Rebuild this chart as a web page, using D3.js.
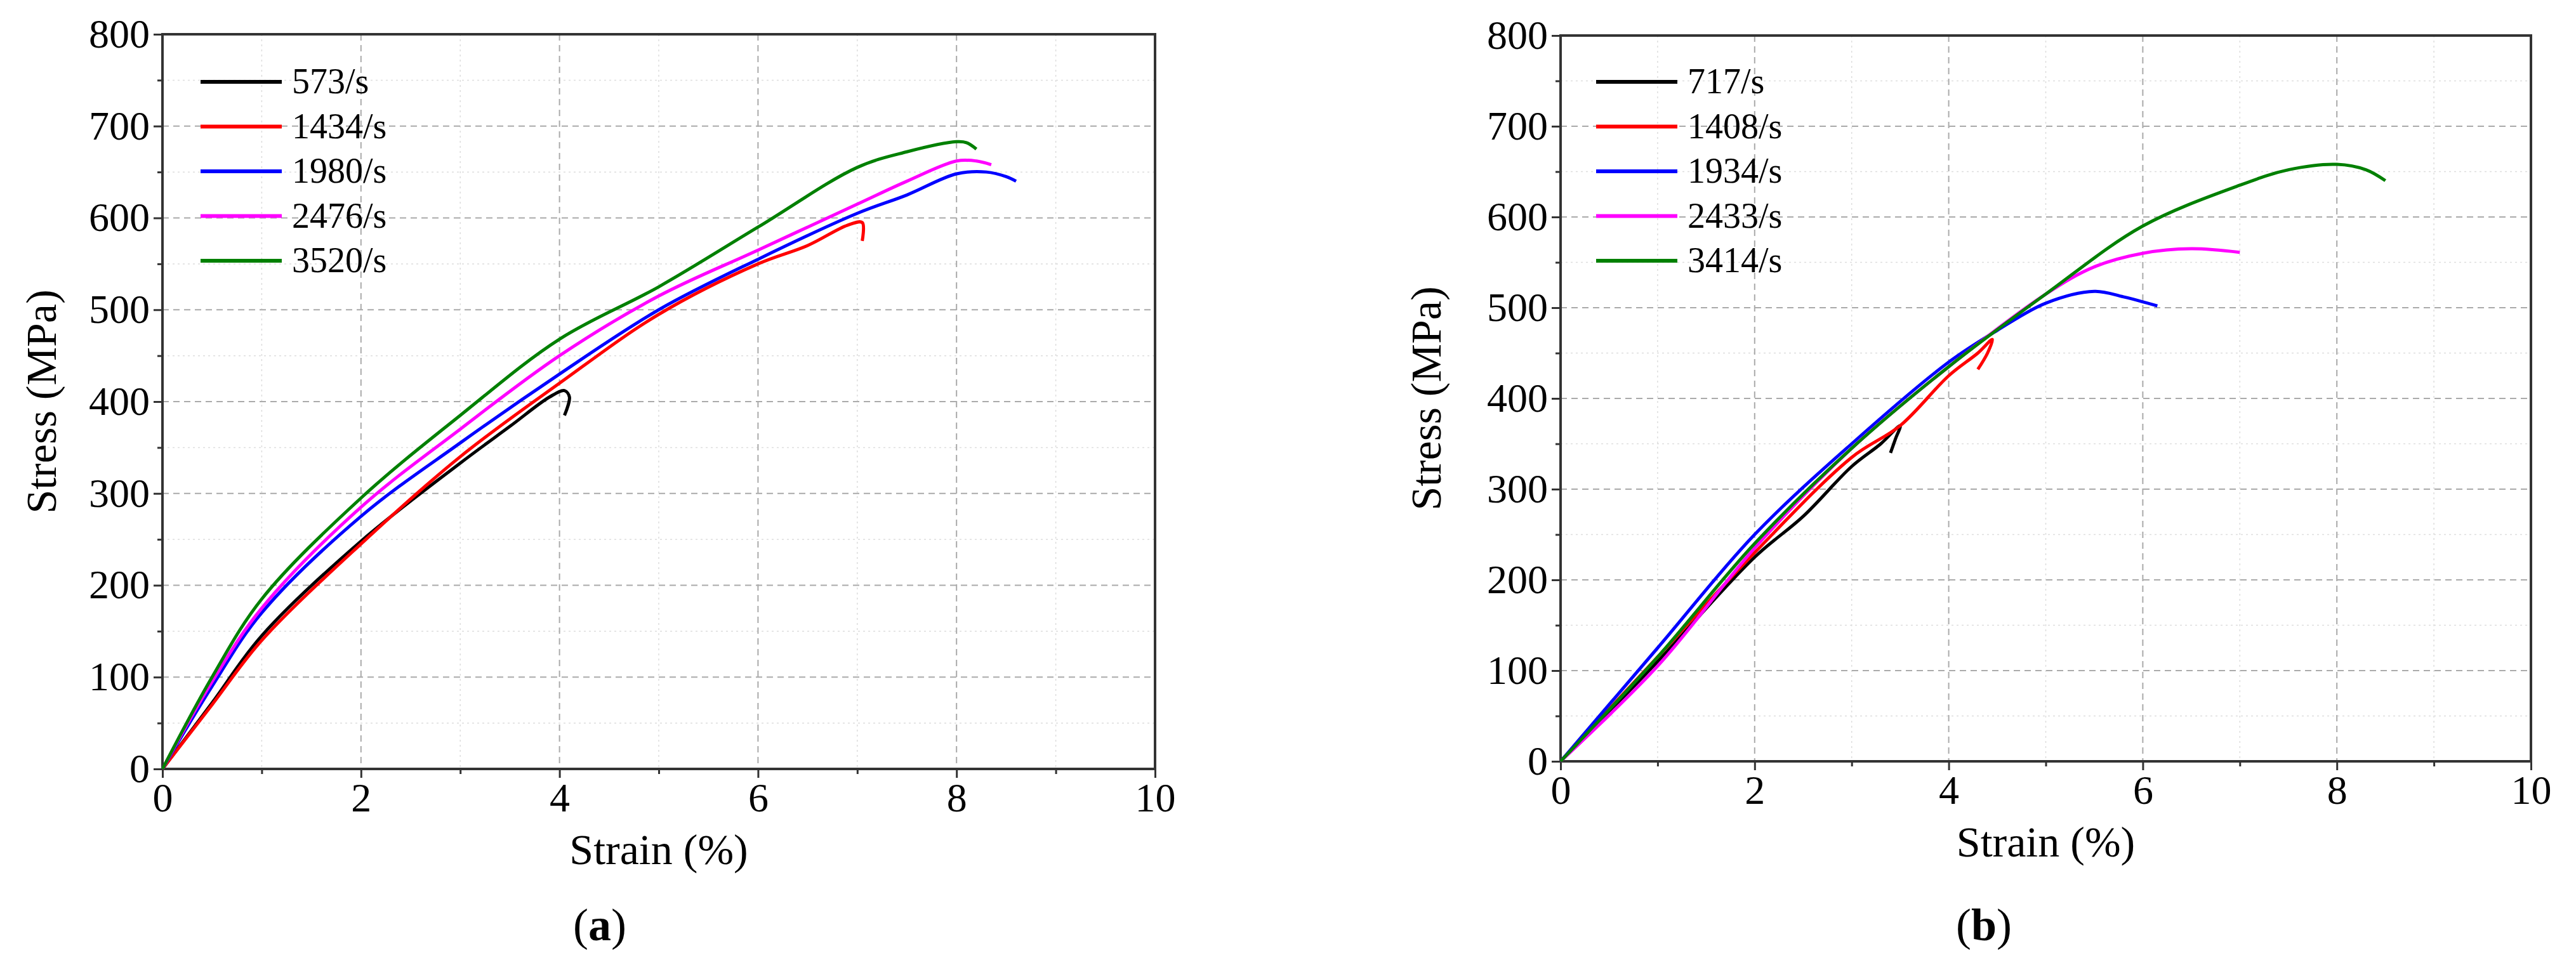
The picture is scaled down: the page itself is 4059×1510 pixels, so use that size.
<!DOCTYPE html><html><head><meta charset="utf-8">
<script src="https://cdn.jsdelivr.net/npm/d3@7"></script>
<style>body{margin:0;background:#fff} svg text{font-family:'Liberation Serif','DejaVu Serif','Times New Roman',Times,serif !important}</style>
</head><body><svg id="c" width="4059" height="1510"></svg>
<script>
const colors=["#000000","#ff0000","#0000ff","#ff00ff","#008000"];
const xTicks=[0,2,4,6,8,10], yTicks=[0,100,200,300,400,500,600,700,800];
const labelsA=["573/s","1434/s","1980/s","2476/s","3520/s"];
const labelsB=["717/s","1408/s","1934/s","2433/s","3414/s"];
const a573=[[0,0],[0.5,72],[1,145],[2,248],[3,333],[3.5,373],[3.9,405],[4.05,412],[4.1,405],[4.05,385]];
const a1434=[[0,0],[0.5,70],[1,140],[2,245],[3,340],[4,420],[5,495],[6,550],[6.5,570],[6.9,592],[7.05,595],[7.05,575]];
const a1980=[[0,0],[0.5,90],[1,170],[2,275],[3,355],[4,430],[5,500],[6,555],[7,605],[7.5,625],[8,648],[8.3,650],[8.5,645],[8.6,640]];
const a2476=[[0,0],[0.5,95],[1,175],[2,285],[3,370],[4,450],[5,515],[6,565],[7,615],[7.5,640],[8,662],[8.2,662],[8.35,658]];
const a3520=[[0,0],[0.5,100],[1,185],[2,295],[3,385],[4,468],[5,525],[6,590],[7,655],[7.5,672],[8,683],[8.1,682],[8.2,675]];
const b717=[[0,0],[1,110],[2,225],[2.5,270],[3,325],[3.3,350],[3.5,370],[3.45,355],[3.4,340]];
const b1408=[[0,0],[1,115],[2,230],[3,335],[3.5,370],[4,425],[4.3,450],[4.45,465],[4.4,450],[4.3,432]];
const b1934=[[0,0],[1,125],[2,250],[3,350],[4,440],[4.5,475],[5,505],[5.5,518],[5.8,512],[6.15,502]];
const b2433=[[0,0],[1,105],[2,235],[3,345],[4,435],[5,515],[5.5,545],[6,560],[6.5,565],[7,561]];
const b3414=[[0,0],[1,115],[2,240],[3,345],[4,435],[5,515],[6,590],[7,635],[7.5,652],[8,658],[8.3,652],[8.5,640]];
const svg=d3.select("#c");
const FF="'Liberation Serif','DejaVu Serif',serif";
function panel(o){
 const g=svg.append("g");
 const x=d3.scaleLinear().domain([0,10]).range([o.l,o.r]);
 const y=d3.scaleLinear().domain([0,800]).range([o.b,o.t]);
 d3.range(1,10,2).forEach(v=>g.append("line").attr("x1",x(v)).attr("x2",x(v)).attr("y1",o.t).attr("y2",o.b).attr("stroke","#ddd").attr("stroke-width",1.5).attr("stroke-dasharray","3,5"));
 d3.range(50,800,100).forEach(v=>g.append("line").attr("x1",o.l).attr("x2",o.r).attr("y1",y(v)).attr("y2",y(v)).attr("stroke","#ddd").attr("stroke-width",1.5).attr("stroke-dasharray","3,5"));
 xTicks.slice(1,-1).forEach(v=>g.append("line").attr("x1",x(v)).attr("x2",x(v)).attr("y1",o.t).attr("y2",o.b).attr("stroke","#aaa").attr("stroke-width",2).attr("stroke-dasharray","10,7"));
 yTicks.slice(1,-1).forEach(v=>g.append("line").attr("x1",o.l).attr("x2",o.r).attr("y1",y(v)).attr("y2",y(v)).attr("stroke","#aaa").attr("stroke-width",2).attr("stroke-dasharray","10,7"));
 g.append("rect").attr("x",o.l).attr("y",o.t).attr("width",o.r-o.l).attr("height",o.b-o.t).attr("fill","none").attr("stroke","#333").attr("stroke-width",4);
 const xa=g.append("g").attr("transform",`translate(0,${o.b})`).call(d3.axisBottom(x).tickValues(xTicks).tickSize(14).tickPadding(8));
 const xm=g.append("g").attr("transform",`translate(0,${o.b})`).call(d3.axisBottom(x).tickValues(d3.range(1,10,2)).tickSize(8).tickFormat(""));
 const ya=g.append("g").attr("transform",`translate(${o.l},0)`).call(d3.axisLeft(y).tickValues(yTicks).tickSize(14).tickPadding(6));
 const ym=g.append("g").attr("transform",`translate(${o.l},0)`).call(d3.axisLeft(y).tickValues(d3.range(50,800,100)).tickSize(8).tickFormat(""));
 [xa,xm,ya,ym].forEach(a=>{a.attr("font-family",FF);a.select(".domain").remove();a.selectAll("line").attr("stroke","#333").attr("stroke-width",3);a.selectAll("text").attr("font-size",64).style("font-family",FF).attr("fill","#000");});
 const line=d3.line().x(d=>x(d[0])).y(d=>y(d[1])).curve(d3.curveCatmullRom);
 o.series.forEach((s,i)=>g.append("path").attr("d",line(s)).attr("fill","none").attr("stroke",colors[i]).attr("stroke-width",5));
 o.labels.forEach((s,i)=>{const yy=o.legY+i*70.5;
  g.append("line").attr("x1",o.legX).attr("x2",o.legX+128).attr("y1",yy).attr("y2",yy).attr("stroke",colors[i]).attr("stroke-width",6);
  g.append("text").attr("x",o.legX+144).attr("y",yy+18).attr("font-size",56).style("font-family",FF).text(s);});
 g.append("text").attr("x",(o.l+o.r)/2).attr("y",o.b+150).attr("text-anchor","middle").attr("font-size",68).style("font-family",FF).text("Strain (%)");
 g.append("text").attr("transform",`translate(${o.yt},${(o.t+o.b)/2}) rotate(-90)`).attr("text-anchor","middle").attr("font-size",68).style("font-family",FF).text("Stress (MPa)");
 const t=g.append("text").attr("x",o.cap).attr("y",1482).attr("text-anchor","middle").attr("font-size",72).style("font-family",FF);
 t.append("tspan").text("(");t.append("tspan").attr("font-weight","bold").text(o.letter);t.append("tspan").text(")");
}
panel({l:256,r:1820,t:54,b:1212,series:[a573,a1434,a1980,a2476,a3520],labels:labelsA,legX:316,legY:129,yt:88,cap:945,letter:"a"});
panel({l:2459,r:3988,t:56,b:1200,series:[b717,b1408,b1934,b2433,b3414],labels:labelsB,legX:2515,legY:129,yt:2270,cap:3126,letter:"b"});
</script></body></html>
